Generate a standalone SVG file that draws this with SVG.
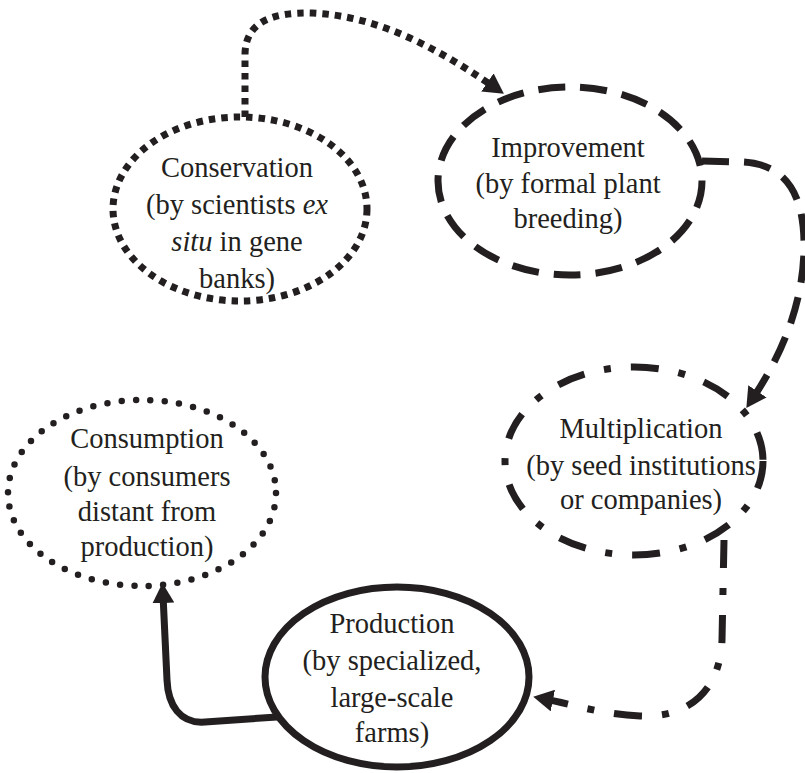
<svg xmlns="http://www.w3.org/2000/svg" width="805" height="773" viewBox="0 0 805 773">
<style>
  text { font-family: "Liberation Serif", "Times New Roman", serif; font-size: 28.5px; fill: #231f20; text-anchor: middle; }
  .it { font-style: italic; }
  .sq { fill: none; stroke: #231f20; stroke-width: 7; stroke-dasharray: 6.5 6; }
  .dash { fill: none; stroke: #231f20; stroke-width: 7; stroke-dasharray: 27 15; }
  .dd { fill: none; stroke: #231f20; stroke-width: 7; stroke-dasharray: 28 20 7 20; }
  .dot { fill: none; stroke: #231f20; stroke-width: 6.5; stroke-dasharray: 0 14.4; stroke-linecap: round; }
  .solid { fill: none; stroke: #231f20; stroke-width: 7; }
</style>
<defs>
  <marker id="arrow" viewBox="0 0 20 22" markerWidth="20" markerHeight="22" refX="8" refY="11" orient="auto" markerUnits="userSpaceOnUse">
    <path d="M0,0 L20,11 L0,22 z" fill="#231f20"/>
  </marker>
</defs>
<rect width="805" height="773" fill="#ffffff"/>
<g id="connectors">
  <path class="sq" d="M245,117 L245,55 C245,22 272,12 312,13 C380,16 440,50 494,87" marker-end="url(#arrow)"/>
  <path class="dash" d="M702,161 L742,162 C790,164 805,200 804,250 C803,300 785,350 753,398" marker-end="url(#arrow)"/>
  <path class="dd" d="M724,540 L722,640 C720,690 690,718 640,716 C600,714 575,705 545,699" marker-end="url(#arrow)"/>
  <path class="solid" d="M277,717 L205,722 C180,724 168,705 167,680 L163,595" marker-end="url(#arrow)"/>
</g>
<g id="conservation">
  <ellipse class="sq" cx="240" cy="209" rx="127" ry="92"/>
  <text x="237" y="177">Conservation</text>
  <text x="237" y="214">(by scientists <tspan class="it">ex</tspan></text>
  <text x="237" y="251"><tspan class="it">situ</tspan> in gene</text>
  <text x="237" y="288">banks)</text>
</g>
<g id="improvement">
  <ellipse class="dash" cx="570" cy="181" rx="132" ry="94"/>
  <text x="568" y="157">Improvement</text>
  <text x="568" y="193">(by formal plant</text>
  <text x="568" y="228">breeding)</text>
</g>
<g id="multiplication">
  <ellipse class="dd" cx="634" cy="461" rx="129" ry="94"/>
  <text x="641" y="438">Multiplication</text>
  <text x="641" y="475">(by seed institutions</text>
  <text x="641" y="509">or companies)</text>
</g>
<g id="production">
  <ellipse class="solid" cx="397" cy="677" rx="132" ry="90"/>
  <text x="392" y="633">Production</text>
  <text x="392" y="670">(by specialized,</text>
  <text x="392" y="707">large-scale</text>
  <text x="392" y="742">farms)</text>
</g>
<g id="consumption">
  <ellipse class="dot" cx="142" cy="493" rx="134" ry="93"/>
  <text x="147" y="448">Consumption</text>
  <text x="147" y="486">(by consumers</text>
  <text x="147" y="521">distant from</text>
  <text x="147" y="556">production)</text>
</g>
</svg>
